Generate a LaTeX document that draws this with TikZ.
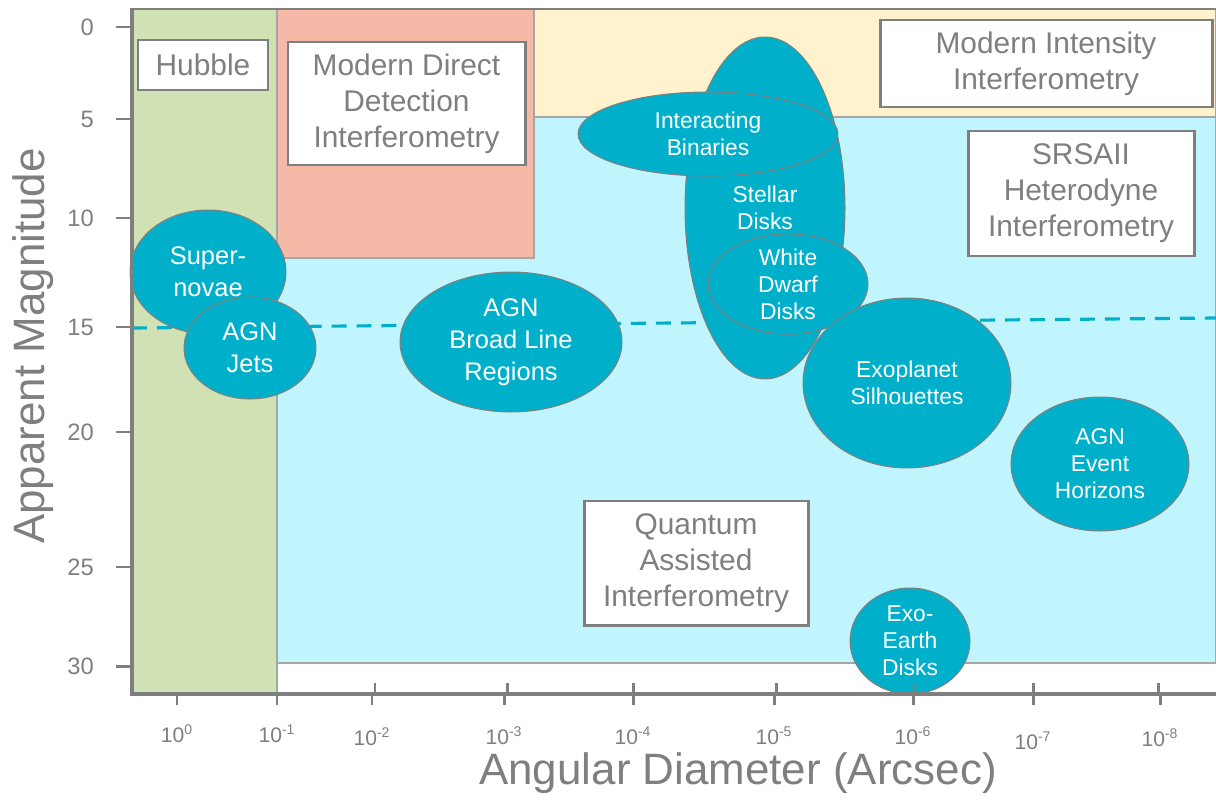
\documentclass[tikz,border=0pt]{standalone}
\usepackage{fontspec}
\setmainfont{Liberation Sans}
\usetikzlibrary{shapes.geometric}
\definecolor{axisgray}{HTML}{7F7F7F}
\definecolor{blobteal}{HTML}{00B0CA}
\definecolor{hubblegreen}{HTML}{D0E2B4}
\definecolor{directsalmon}{HTML}{F4B9A7}
\definecolor{intensitycream}{HTML}{FFF2CC}
\definecolor{quantumcyan}{HTML}{C0F5FD}

\begin{document}
\begin{tikzpicture}[x=0.02cm,y=-0.02cm,
  region/.style={draw=gray!70,line width=0.6pt},
  tick/.style={axisgray,line width=1.7pt},
  target/.style 2 args={ellipse,draw=gray,line width=0.6pt,fill=blobteal,text=white,
    inner sep=0pt,align=center,minimum width=#1*0.04cm,minimum height=#2*0.04cm,
    font=\fontsize{13}{15.4}\selectfont},
  big target/.style={font=\fontsize{14.5}{18.2}\selectfont},
  method/.style 2 args={draw=axisgray,line width=1.7pt,fill=white,text=axisgray,
    inner sep=0pt,align=center,minimum width=#1*0.02cm,minimum height=#2*0.02cm,
    font=\fontsize{17}{20.5}\selectfont}]
\useasboundingbox (0,0) rectangle (1216,804);

% technique regions
\fill[quantumcyan,region] (277,117) rectangle (1216,663);
\fill[hubblegreen,region] (132,9) rectangle (277,694);
\fill[directsalmon,region] (277,9) rectangle (534,258);
\fill[intensitycream,region] (534,9) rectangle (1216,117);

% magnitude 15 line
\coordinate (m15l) at (132,328);
\coordinate (m15r) at (1216,318);
\draw[blobteal,line width=1.8pt,dash pattern=on 8.5pt off 5.7pt] (m15l) -- (m15r);

\node[method={130}{50}] (hubble) at (203,65) {Hubble};
\node[method={237}{123}] (direct) at (406.5,103.5) {Modern Direct\\Detection\\Interferometry};
\node[method={332}{87}] (intensity) at (1046,63.5) {Modern Intensity\\Interferometry};
\node[method={226}{125}] (srsaii) at (1081,193.5) {SRSAII\\Heterodyne\\Interferometry};
\node[method={224}{124}] (quantum) at (696,563) {Quantum\\Assisted\\Interferometry};

% science targets
\node[target={78}{62},big target] (supernovae) at (208,272) {Super-\\novae};
\node[target={66}{51},big target] (jets) at (250,348) {AGN\\Jets};
\node[target={111}{70},big target] (blr) at (511,342) {AGN\\Broad Line\\Regions};
\node[target={80}{171}] (stellar) at (765,208) {Stellar\\Disks};
\node[target={130}{42}] (binaries) at (708,134) {Interacting\\Binaries};
\node[target={80}{42}] (dwarf) at (788,284) {White\\Dwarf\\Disks};
\node[target={104}{85}] (exoplanet) at (907,383) {Exoplanet\\Silhouettes};
\node[target={89}{67}] (horizons) at (1100,464) {AGN\\Event\\Horizons};
\node[target={60}{53}] (exoearth) at (910,641) {Exo-\\Earth\\Disks};

% axes
\draw[axisgray,line width=1.2pt] (132,9) -- (1216,9);
\draw[axisgray,line width=2.3pt] (132,8) -- (132,694) -- (1216,694);
\foreach \m/\y in {0/27,5/119,10/218,15/327,20/432,25/567,30/666}{
  \draw[tick] (116,\y) -- (132,\y);
  \node[text=axisgray,anchor=east,font=\fontsize{13.5}{16}\selectfont] (mag\m) at (100,\y) {\m};
}
\foreach \e/\x/\ly in {0/177/742,1/277/742,2/372/745,3/504/744,4/633/744,5/774/744,6/913/744,7/1033/749,8/1160/746}{
  \draw[tick] (\x,694) -- (\x,705);
  \node[text=axisgray,anchor=base,font=\fontsize{12}{14}\selectfont] (dia\e) at (\x,\ly) {10\textsuperscript{\ifnum\e=0 0\else -\e\fi}};
}
\foreach \x in {375,507,633,776,914,1033,1158}
  \draw[tick] (\x,683) -- (\x,694);

\node[text=axisgray,rotate=90,font=\fontsize{25}{30}\selectfont] (ytitle) at (33,346) {Apparent Magnitude};
\node[text=axisgray,font=\fontsize{25}{30}\selectfont] (xtitle) at (738,773) {Angular Diameter (Arcsec)};
\end{tikzpicture}
\end{document}
